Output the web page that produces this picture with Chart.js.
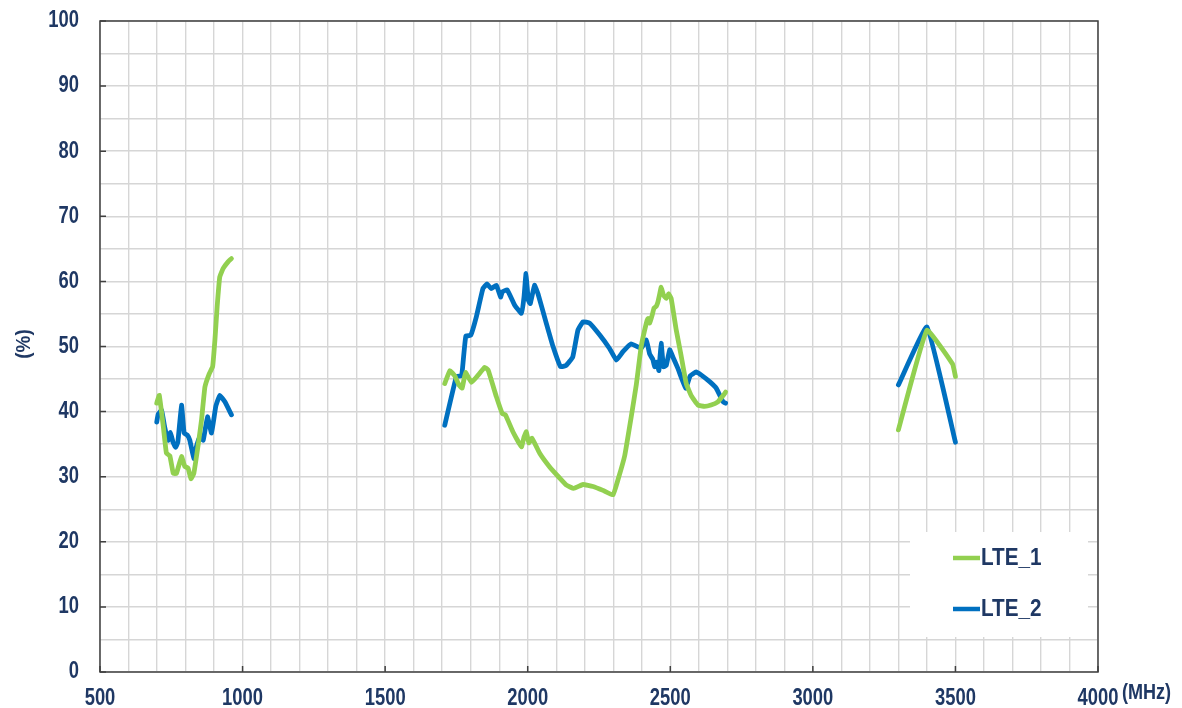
<!DOCTYPE html>
<html>
<head>
<meta charset="utf-8">
<script src="https://cdn.jsdelivr.net/npm/chart.js@4.4.1/dist/chart.umd.min.js"></script>
<style>
  body { margin: 0; background: #fff; }
  #wrap { width: 1182px; height: 708px; position: relative; }
</style>
</head>
<body>
<div id="wrap"><canvas id="rxChart"></canvas></div>
<script>
// values (MHz, %); a null value breaks the line between bands
const seriesNames = ['LTE_1', 'LTE_2'];
const seriesColors = ['#92D050', '#0070C0'];

const lte1Freq = [699, 708, 722, 733, 745, 757, 768, 786, 797, 809, 819, 829, 845, 856, 868, 883, 895, 903, 911, 920, 932, 949, 961,
  1300,
  1709, 1727, 1744, 1759, 1770, 1782, 1803, 1826, 1849, 1861, 1890, 1911, 1922, 1948, 1978, 1987, 1995, 2004, 2015, 2042, 2077, 2112,
  2136, 2161, 2194, 2229, 2264, 2299, 2317, 2340, 2363, 2381, 2398, 2416, 2422, 2428, 2437, 2443, 2451, 2457, 2463, 2468, 2476, 2486,
  2494, 2503, 2521, 2538, 2556, 2574, 2597, 2620, 2643, 2667, 2686, 2694,
  3000,
  3300, 3400, 3490, 3500];
const lte1Val = [41.3, 42.5, 37.7, 33.6, 33.2, 30.5, 30.5, 33.1, 31.6, 31.3, 29.7, 30.5, 35.1, 38.7, 43.8, 45.8, 46.9, 51, 56.2, 60.7, 62, 63, 63.5,
  null,
  44.3, 46.3, 45.5, 44.1, 43.6, 46, 44.5, 45.6, 46.8, 46.4, 42.3, 39.7, 39.5, 36.9, 34.6, 36.1, 36.9, 35.2, 35.9, 33.6, 31.5, 29.8,
  28.7, 28.2, 28.8, 28.5, 27.9, 27.2, 29.6, 33.2, 39.2, 44.2, 50, 53.6, 54.3, 53.6, 54.9, 55.9, 56.2, 56.9, 58.1, 59.1, 57.9, 57.4,
  58.1, 57.4, 52.5, 48.6, 44.3, 42.4, 41, 40.8, 41, 41.5, 42.5, 43,
  null,
  37.2, 52.5, 47.3, 45.4];

const lte2Freq = [699, 704, 716, 727, 739, 747, 756, 765, 773, 786, 795, 806, 815, 829, 838, 850, 862, 877, 891, 906, 920, 938, 961,
  1300,
  1709, 1750, 1768, 1774, 1783, 1800, 1820, 1843, 1857, 1872, 1890, 1905, 1911, 1928, 1955, 1978, 1987, 1994, 2002, 2009, 2024, 2036,
  2065, 2088, 2115, 2135, 2158, 2176, 2194, 2217, 2252, 2287, 2311, 2334, 2363, 2398, 2416, 2428, 2439, 2445, 2453, 2460, 2468, 2476,
  2486, 2498, 2509, 2527, 2554, 2570, 2591, 2609, 2638, 2661, 2685, 2694,
  3000,
  3300, 3400, 3500];
const lte2Val = [38.4, 39.6, 40.2, 37.6, 35.6, 36.8, 35.3, 34.5, 35.3, 41, 36.7, 36.4, 35.6, 32.8, 34.6, 36.1, 35.6, 39.2, 36.7, 40.8, 42.5, 41.5, 39.5,
  null,
  37.9, 45.4, 45.5, 47.9, 51.6, 51.7, 54.6, 58.9, 59.6, 58.9, 59.4, 57.6, 58.4, 58.7, 56.3, 55.1, 57.6, 61.2, 57.1, 56.6, 59.4, 58.1,
  53.6, 50.1, 46.9, 47.1, 48.4, 52.5, 53.8, 53.6, 51.8, 49.7, 47.9, 49.2, 50.4, 49.7, 51, 48.8, 48, 46.9, 47.6, 46.3, 50.5, 46.9,
  47.1, 49.5, 48.4, 46.6, 43.6, 45.5, 46.1, 45.6, 44.6, 43.6, 41.5, 41.3,
  null,
  44.1, 53, 35.3];

// axis ranges / tick labels
const xMin = 500, xMax = 4000, xMinor = 100, xMajor = 500;
const yMin = 0, yMax = 100, yMinor = 5, yMajor = 10;

const navy = '#1F3864';
const fontFam = "'Liberation Sans', Arial, sans-serif";

function toPoints(xs, ys) {
  return xs.map((x, i) => ({ x: x, y: ys[i] }));
}

// the source uses a narrow bold face; squeeze regular bold horizontally
function narrowText(ctx, text, x, y, align, size, squeeze) {
  ctx.save();
  ctx.translate(x, y);
  ctx.scale(squeeze, 1);
  ctx.font = 'bold ' + size + 'px ' + fontFam;
  ctx.textAlign = align;
  ctx.textBaseline = 'middle';
  ctx.fillText(text, 0, 0);
  ctx.restore();
}

// frame, tick labels, axis titles and the boxed legend
const decorPlugin = {
  id: 'decor',
  afterDraw(chart) {
    const ctx = chart.ctx;
    const a = chart.chartArea;
    const xs = chart.scales.x, ys = chart.scales.y;
    ctx.save();
    ctx.strokeStyle = '#404040';
    ctx.lineWidth = 1.5;
    ctx.strokeRect(a.left, a.top, a.right - a.left, a.bottom - a.top);

    // short tick marks inside the frame at labelled values
    ctx.beginPath();
    for (let v = xMin; v <= xMax; v += xMajor) {
      const px = xs.getPixelForValue(v);
      ctx.moveTo(px, a.bottom);
      ctx.lineTo(px, a.bottom - 6);
    }
    for (let v = yMin; v <= yMax; v += yMajor) {
      const py = ys.getPixelForValue(v);
      ctx.moveTo(a.left, py);
      ctx.lineTo(a.left + 6, py);
    }
    ctx.stroke();

    // tick labels from the scales' own ticks
    ctx.fillStyle = navy;
    xs.ticks.forEach(t => {
      if (t.value % xMajor === 0) {
        narrowText(ctx, String(t.value), xs.getPixelForValue(t.value), a.bottom + 27, 'center', 23, 0.8);
      }
    });
    ys.ticks.forEach(t => {
      if (t.value % yMajor === 0) {
        narrowText(ctx, String(t.value), a.left - 21, ys.getPixelForValue(t.value), 'right', 23, 0.8);
      }
    });

    // axis titles
    narrowText(ctx, '(MHz)', 1122, 693, 'left', 22, 0.82);
    ctx.save();
    ctx.translate(24, 344);
    ctx.rotate(-Math.PI / 2);
    narrowText(ctx, '(%)', 0, 0, 'center', 21, 0.9);
    ctx.restore();

    // legend box (hides the grid behind it)
    ctx.fillStyle = '#fff';
    ctx.fillRect(910, 532, 178, 105);
    const rows = [558, 609];
    chart.data.datasets.forEach((ds, i) => {
      ctx.strokeStyle = ds.borderColor;
      ctx.lineWidth = 4.5;
      ctx.beginPath();
      ctx.moveTo(953, rows[i]);
      ctx.lineTo(980, rows[i]);
      ctx.stroke();
      ctx.fillStyle = navy;
      narrowText(ctx, ds.label, 981, rows[i] + 1, 'left', 23, 0.9);
    });
    ctx.restore();
  }
};

const ctx = document.getElementById('rxChart').getContext('2d');
const rxChart = new Chart(ctx, {
  type: 'line',
  data: {
    datasets: [
      { label: seriesNames[0], data: toPoints(lte1Freq, lte1Val), borderColor: seriesColors[0] },
      { label: seriesNames[1], data: toPoints(lte2Freq, lte2Val), borderColor: seriesColors[1] }
    ].map(ds => Object.assign(ds, {
      borderWidth: 4.8,
      pointRadius: 0,
      tension: 0.1,
      spanGaps: false,
      fill: false,
      borderCapStyle: 'round',
      borderJoinStyle: 'round'
    }))
  },
  options: {
    responsive: true,
    maintainAspectRatio: false,
    animation: false,
    layout: { padding: { top: 21, right: 84, left: 0, bottom: 0 } },
    plugins: {
      legend: { display: false },
      tooltip: { enabled: false }
    },
    scales: {
      x: {
        type: 'linear',
        min: xMin,
        max: xMax,
        afterFit(scale) { scale.height = 36; },
        grid: { color: '#d6d6d6', lineWidth: 1.4, drawTicks: false },
        border: { display: false },
        ticks: { stepSize: xMinor, autoSkip: false, display: false }
      },
      y: {
        min: yMin,
        max: yMax,
        afterFit(scale) { scale.width = 100; },
        grid: { color: '#d6d6d6', lineWidth: 1.4, drawTicks: false },
        border: { display: false },
        ticks: { stepSize: yMinor, autoSkip: false, display: false }
      }
    }
  },
  plugins: [decorPlugin]
});
</script>
</body>
</html>
